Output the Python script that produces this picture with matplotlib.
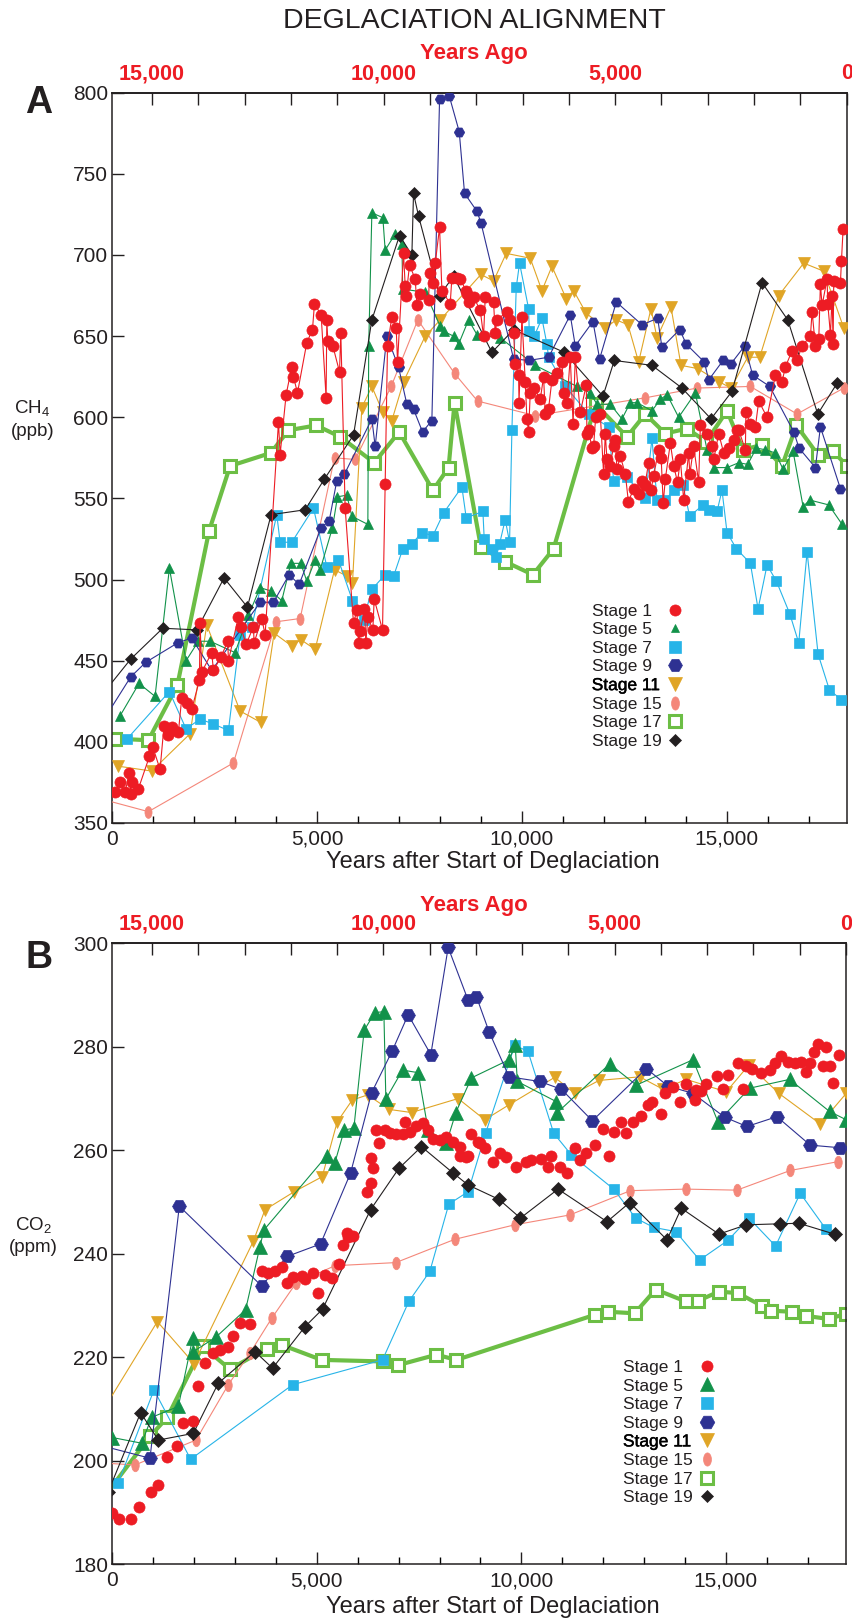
import numpy as np
import matplotlib
matplotlib.use('Agg')
import matplotlib.pyplot as plt
import matplotlib.patheffects as pe
from matplotlib.lines import Line2D
from matplotlib.path import Path
from matplotlib.transforms import Affine2D
from matplotlib.ticker import FuncFormatter

plt.rcParams['font.family'] = ['Liberation Sans', 'DejaVu Sans']
plt.rcParams['mathtext.default'] = 'regular'

# x axis: years after start of deglaciation; top axis: years ago
XMAX = 17930
K = 0.8845

stage_names = ['Stage 1', 'Stage 5', 'Stage 7', 'Stage 9',
               'Stage 11', 'Stage 15', 'Stage 17', 'Stage 19']

# ---------------- CH4 (ppb) ----------------
ch4_s1 = np.array([
    [66, 369], [189, 375], [311, 369], [417, 381], [449, 368], [474, 375], [636, 371],
    [905, 391], [987, 397], [1166, 383], [1263, 410], [1369, 404], [1451, 409],
    [1614, 406], [1695, 427], [1834, 424], [1939, 420], [2127, 438], [2143, 473],
    [2184, 443], [2428, 455], [2469, 444], [2648, 452], [2819, 462], [2835, 450],
    [3079, 477], [3136, 471], [3267, 460], [3446, 471], [3462, 461], [3649, 476],
    [3731, 466], [4057, 597], [4097, 577], [4244, 614], [4382, 631], [4423, 625],
    [4521, 615], [4749, 646], [4887, 654], [4936, 670], [5099, 663], [5220, 612],
    [5237, 660], [5262, 647], [5384, 644], [5547, 628], [5579, 652], [5685, 544],
    [5889, 473], [5970, 481], [6011, 461], [6052, 468], [6157, 482], [6190, 461],
    [6239, 477], [6361, 469], [6394, 488], [6597, 469], [6662, 559], [6719, 644],
    [6825, 662], [6931, 655], [6964, 634], [7110, 701], [7151, 681], [7175, 675],
    [7257, 694], [7396, 685], [7436, 669], [7501, 676], [7721, 672], [7745, 689],
    [7827, 683], [7884, 695], [7990, 717], [8047, 678], [8250, 670], [8291, 686],
    [8413, 686], [8494, 685], [8641, 678], [8657, 676], [8698, 671], [8820, 674],
    [8983, 666], [9064, 650], [9105, 674], [9308, 671], [9349, 652], [9390, 660],
    [9634, 665], [9715, 660], [9797, 652], [9838, 633], [9919, 626], [9930, 609],
    [10000, 662], [10082, 622], [10123, 599], [10163, 591], [10204, 615], [10300, 618],
    [10448, 611], [10530, 625], [10570, 602], [10650, 605], [10733, 623], [10855, 627],
    [10978, 634], [11018, 615], [11100, 609], [11181, 637], [11250, 596], [11303, 637],
    [11426, 603], [11572, 620], [11588, 590], [11629, 592], [11711, 581], [11751, 582],
    [11800, 600], [11914, 602], [11995, 565], [12036, 590], [12077, 574], [12150, 570],
    [12240, 582], [12280, 586], [12321, 568], [12403, 576], [12525, 565], [12600, 548],
    [12728, 556], [12850, 553], [12932, 561], [13000, 558], [13095, 572], [13150, 555],
    [13217, 564], [13339, 580], [13400, 575], [13450, 547], [13502, 562], [13624, 584],
    [13706, 570], [13800, 560], [13869, 574], [13950, 549], [14072, 578], [14100, 565],
    [14194, 582], [14316, 560], [14357, 595], [14520, 590], [14642, 582], [14683, 574],
    [14805, 590], [14927, 578], [15049, 581], [15171, 586], [15253, 592], [15294, 592],
    [15456, 580], [15470, 603], [15578, 596], [15700, 594], [15782, 610], [15986, 600],
    [16189, 626], [16352, 622], [16433, 631], [16596, 641], [16718, 635], [16840, 644],
    [17044, 650], [17085, 665], [17166, 644], [17248, 648], [17288, 682], [17329, 669],
    [17451, 685], [17468, 670], [17533, 651], [17574, 675], [17598, 645], [17614, 684],
    [17777, 683], [17801, 696], [17842, 716]])

ch4_s5 = np.array([
    [189, 416], [653, 436], [1044, 428], [1394, 507], [1801, 450], [2102, 462],
    [2387, 462], [2998, 455], [3324, 478], [3609, 495], [3869, 493], [4138, 487],
    [4358, 510], [4602, 510], [4749, 499], [4952, 512], [5074, 506], [5376, 532],
    [5498, 551], [5726, 552], [5848, 539], [6239, 534], [6260, 644], [6337, 726],
    [6605, 723], [6662, 703], [6907, 713], [7070, 707], [7090, 679], [7640, 677],
    [8006, 656], [8087, 653], [8332, 650], [8454, 645], [8698, 660], [8901, 651],
    [9471, 649], [10326, 632], [11344, 619], [11670, 615], [11833, 608], [12158, 608],
    [12443, 599], [12647, 609], [12810, 609], [13176, 604], [13380, 611], [13543, 614],
    [13827, 600], [14235, 615], [14520, 580], [14683, 569], [15008, 569], [15294, 572],
    [15513, 571], [15725, 581], [15945, 580], [16189, 578], [16376, 568], [16621, 579],
    [16865, 545], [17028, 549], [17492, 546], [17818, 534]])

ch4_s7 = np.array([
    [368, 402], [1394, 431], [1801, 408], [2143, 414], [2469, 411], [2835, 407],
    [3120, 466], [3405, 471], [4016, 540], [4097, 523], [4382, 523], [4912, 544],
    [5237, 508], [5522, 512], [5864, 487], [6133, 475], [6337, 494], [6662, 503],
    [6866, 502], [7094, 519], [7314, 522], [7558, 529], [7827, 527], [8087, 541],
    [8535, 557], [8641, 538], [9048, 542], [9080, 525], [9268, 519], [9373, 514],
    [9455, 522], [9593, 537], [9699, 523], [9756, 592], [9862, 680], [9943, 695],
    [10163, 667], [10180, 653], [10302, 650], [10489, 661], [10611, 645], [10652, 637],
    [11059, 619], [11629, 602], [12117, 594], [12240, 561], [12566, 563], [13013, 550],
    [13176, 587], [13298, 549], [13502, 549], [13706, 555], [13934, 558], [14096, 539],
    [14422, 546], [14561, 543], [14764, 542], [14886, 555], [15008, 529], [15236, 519],
    [15578, 510], [15766, 482], [15986, 509], [16214, 499], [16539, 479], [16759, 461],
    [16963, 517], [17232, 454], [17508, 432], [17801, 426]])

ch4_s9 = np.array([
    [-250, 412], [449, 440], [816, 449], [1597, 461], [1939, 464], [2428, 444],
    [3609, 486], [3934, 486], [4317, 503], [4561, 497], [5099, 532], [5294, 536],
    [5482, 561], [5669, 565], [6337, 599], [6418, 582], [6703, 650], [6988, 631],
    [7192, 608], [7354, 605], [7574, 591], [7802, 598], [7990, 796], [8226, 798],
    [8470, 776], [8600, 738], [8901, 727], [8999, 720], [9797, 636], [10163, 635],
    [10652, 637], [11181, 663], [11303, 644], [11735, 659], [11898, 636], [12305, 671],
    [12932, 657], [13315, 661], [13420, 643], [13852, 654], [14015, 645], [14455, 634],
    [14560, 623], [14911, 635], [15106, 633], [15440, 644], [15635, 626], [16051, 619],
    [16637, 591], [16767, 581], [17166, 569], [17288, 594], [17777, 556]])

ch4_s11 = np.array([
    [148, 385], [962, 382], [1899, 405], [2306, 472], [3120, 419], [3625, 412],
    [3951, 467], [4382, 459], [4602, 463], [4952, 457], [5425, 506], [5742, 502],
    [5864, 498], [6092, 606], [6337, 619], [6605, 603], [6825, 598], [7110, 622],
    [7640, 650], [8006, 660], [9000, 688], [9308, 684], [9618, 701], [10204, 698],
    [10489, 678], [10733, 693], [11084, 673], [11263, 678], [11572, 664], [12036, 655],
    [12305, 660], [12590, 657], [12850, 634], [13152, 667], [13298, 649], [13640, 668],
    [13884, 632], [14292, 630], [14805, 622], [15106, 618], [15513, 637], [15806, 637],
    [16270, 675], [16881, 695], [17370, 690], [17858, 655]])

ch4_s15 = np.array([
    [-300, 365], [881, 357], [2957, 387], [4000, 474], [4586, 476], [5425, 575],
    [5930, 574], [6809, 619], [7460, 660], [8356, 627], [8918, 610], [10326, 601],
    [13013, 612], [14276, 618], [15578, 619], [16718, 602], [17858, 618]])

ch4_s17 = np.array([
    [66, 402], [881, 401], [1589, 435], [2363, 530], [2876, 570], [3869, 578],
    [4301, 592], [4977, 595], [5563, 588], [6393, 572], [7004, 591], [7827, 555],
    [8210, 569], [8356, 609], [9000, 520], [9593, 511], [10269, 503], [10774, 519],
    [11800, 608], [12566, 588], [13013, 602], [13500, 590], [14031, 593], [14500, 585],
    [15008, 604], [15400, 580], [15863, 583], [16352, 570], [16702, 595], [17224, 577],
    [17598, 579], [17940, 570]])

ch4_s19 = np.array([
    [-250, 429], [449, 451], [1231, 470], [2062, 469], [2729, 501], [3299, 483],
    [3877, 540], [4708, 543], [5180, 562], [5889, 589], [6337, 660], [7012, 712],
    [7314, 700], [7354, 738], [7477, 724], [7990, 675], [8332, 687], [9268, 640],
    [9797, 654], [11035, 640], [11979, 613], [12256, 635], [13176, 632], [13909, 618],
    [14618, 599], [15130, 616], [15863, 683], [16491, 660], [17223, 602], [17696, 621]])

# ---------------- CO2 (ppm) ----------------
co2_s1 = np.array([
    [0, 189.9], [164, 188.7], [449, 188.7], [661, 191.1], [938, 193.9], [1125, 195.3],
    [1329, 200.7], [1589, 202.9], [1736, 207.4], [1964, 207.6], [2102, 214.5],
    [2265, 218.9], [2469, 220.9], [2631, 221.5], [2835, 221.9], [2957, 224.1],
    [3120, 226.6], [3364, 226.4], [3649, 236.7], [3812, 236.2], [3975, 236.6],
    [4138, 237.4], [4260, 234.4], [4423, 235.6], [4627, 235.7], [4708, 235.1],
    [4912, 236.2], [5034, 232.5], [5197, 235.9], [5359, 235.3], [5547, 238.0],
    [5644, 241.7], [5726, 244.0], [5767, 243.3], [5889, 243.4], [6214, 252.0],
    [6312, 253.6], [6361, 256.5], [6330, 258.6], [6442, 263.9], [6524, 261.4],
    [6662, 263.9], [6784, 263.3], [6931, 263.2], [7094, 263.2], [7151, 265.4],
    [7273, 263.6], [7436, 264.6], [7599, 265.2], [7721, 263.9], [7843, 262.1],
    [8006, 262.0], [8169, 262.5], [8332, 261.7], [8495, 260.7], [8510, 258.9],
    [8657, 258.8], [8698, 258.9], [8780, 263.2], [8942, 261.7], [8983, 261.4],
    [9105, 260.4], [9308, 257.8], [9471, 259.4], [9634, 258.8], [9878, 256.7],
    [10123, 257.8], [10245, 258.1], [10489, 258.3], [10652, 256.7], [10733, 258.9],
    [10937, 256.7], [11116, 255.6], [11303, 260.4], [11425, 258.1], [11588, 259.5],
    [11792, 261.0], [11995, 264.1], [12142, 258.9], [12256, 263.6], [12443, 265.5],
    [12566, 263.3], [12728, 265.5], [12932, 266.6], [13095, 268.8], [13201, 269.4],
    [13421, 267.0], [13502, 271.0], [13706, 272.3], [13869, 269.4], [14031, 272.9],
    [14235, 269.7], [14276, 271.7], [14398, 271.5], [14520, 272.9], [14780, 274.4],
    [14927, 271.8], [15049, 274.6], [15294, 276.9], [15416, 271.8], [15481, 276.2],
    [15643, 275.7], [15863, 274.9], [16067, 275.5], [16189, 276.8], [16352, 278.2],
    [16515, 277.1], [16678, 276.8], [16841, 277.1], [16947, 275.2], [17060, 276.9],
    [17142, 278.9], [17248, 280.5], [17370, 276.2], [17451, 280.0], [17549, 276.2],
    [17614, 273.0], [17761, 278.4]])

co2_s5 = np.array([
    [0, 204.5], [718, 203.4], [962, 208.4], [1614, 210.5], [1964, 223.7], [1980, 221.1],
    [2534, 223.9], [3259, 229.2], [3609, 241.4], [3706, 244.6], [5237, 258.9],
    [5441, 257.6], [5669, 263.9], [5905, 264.3], [6157, 283.2], [6418, 286.6],
    [6638, 286.8], [6687, 269.9], [7094, 275.5], [7477, 275.0], [7721, 263.9],
    [8169, 261.4], [8397, 267.3], [8780, 274.0], [9700, 277.5], [9850, 280.3],
    [9900, 273.3], [10855, 269.4], [10880, 267.3], [12158, 276.7], [12810, 272.6],
    [14194, 277.5], [14805, 265.5], [15578, 272.0], [16555, 273.7], [17533, 267.5],
    [17940, 265.9]])

co2_s7 = np.array([
    [148, 195.8], [1019, 213.7], [1915, 200.3], [4407, 214.7], [6605, 219.5],
    [7249, 230.8], [7762, 236.6], [8226, 249.6], [8698, 252.0], [9129, 263.4],
    [9838, 280.3], [10163, 279.1], [10790, 263.3], [11222, 259.1], [12256, 252.5],
    [12793, 246.9], [13233, 245.1], [13771, 244.3], [14357, 238.8], [15049, 242.6],
    [15562, 246.9], [16214, 241.5], [16816, 251.7], [17451, 244.7]])

co2_s9 = np.array([
    [-300, 203.0], [921, 200.5], [1638, 249.2], [3649, 233.8], [4276, 239.5],
    [5090, 241.9], [5824, 255.6], [6337, 271.1], [6842, 279.2], [7232, 286.2],
    [7786, 278.5], [8210, 299.2], [8698, 289.0], [8900, 289.7], [9211, 282.9],
    [9699, 274.2], [10448, 273.3], [10978, 271.8], [11735, 265.7], [13054, 275.8],
    [13583, 272.4], [14194, 271.0], [14968, 266.4], [15513, 264.6], [16246, 266.5],
    [17060, 261.0], [17777, 260.5]])

co2_s11 = np.array([
    [-300, 208.8], [1101, 226.9], [1996, 218.8], [3446, 242.4], [3731, 248.5],
    [4447, 252.0], [5131, 254.9], [5498, 265.5], [5864, 269.7], [6239, 270.7],
    [6768, 267.9], [7314, 267.3], [8454, 270.0], [9105, 265.9], [9699, 268.8],
    [10815, 274.1], [11303, 271.0], [11898, 273.5], [12891, 274.2], [13461, 271.8],
    [14031, 273.7], [15008, 271.3], [15562, 276.5], [16295, 271.0], [17305, 265.1],
    [17940, 271.0]])

co2_s15 = np.array([
    [-300, 199.6], [555, 199.2], [2045, 204.0], [2835, 214.7], [3364, 220.8],
    [3893, 227.5], [4488, 234.3], [5441, 237.7], [6931, 238.3], [8372, 242.8],
    [9838, 245.6], [11181, 247.5], [12663, 252.2], [14015, 252.5], [15269, 252.3],
    [16572, 256.1], [17736, 257.8]])

co2_s17 = np.array([
    [-300, 192.0], [921, 204.7], [1345, 208.4], [2208, 222.1], [2876, 217.7],
    [3772, 221.7], [4138, 222.4], [5115, 219.5], [6605, 219.2], [6988, 218.5],
    [7924, 220.5], [8413, 219.5], [11792, 228.2], [12117, 228.8], [12769, 228.5],
    [13282, 233.1], [14015, 230.8], [14316, 230.9], [14829, 232.7], [15294, 232.4],
    [15888, 229.9], [16108, 229.0], [16621, 228.8], [16963, 228.0], [17516, 227.4],
    [17924, 228.4]])

co2_s19 = np.array([
    [-100, 194.0], [693, 209.3], [1125, 204.0], [1980, 205.3], [2591, 215.0],
    [3487, 221.1], [3918, 217.9], [4708, 225.9], [5139, 229.3], [6312, 248.5],
    [7004, 256.5], [7558, 260.7], [8332, 255.6], [8698, 253.3], [9455, 250.5],
    [9976, 246.9], [10896, 252.5], [12093, 246.2], [12647, 249.9], [13559, 242.7],
    [13909, 248.8], [14829, 243.8], [15497, 245.6], [16328, 245.8], [16784, 245.9],
    [17655, 243.8]])

# ---------------- styles ----------------
RED = '#ED1C24'
INK = '#231F20'
ellipse = Path.unit_circle().transformed(Affine2D().scale(0.6, 1.0))

colors = ['#ED1C24', '#12924A', '#27B4E8', '#2E3192', '#E0A526', '#F4877A', '#6CBE45', '#231F20']
markers = ['o', '^', 's', 'H', 'v', ellipse, 's', 'D']
zorders = [9, 6, 5, 7, 4, 3, 2, 8]
sizes_a = [8, 6.5, 7, 7.5, 8, 8.5, 8, 6]
sizes_b = [8, 10, 7.5, 10, 9, 9, 8.5, 7]
leg_sizes_a = [8, 6, 8.5, 10, 10, 9.5, 9, 6.5]
leg_sizes_b = [8, 10.5, 8.5, 10.5, 10.5, 9.5, 9, 6.5]


def style(i, ms):
    kw = dict(marker=markers[i], color=colors[i], mec=colors[i], mfc=colors[i],
              ms=ms, lw=0.8, mew=0.5)
    if i == 6:
        kw.update(mfc='white', mew=2.2, lw=3)
    return kw


def year_ago(x):
    return (XMAX - np.asarray(x, dtype=float)) * K


def year_after(y):
    return XMAX - np.asarray(y, dtype=float) / K


def setup(ax, ylim, ystep):
    ax.set_xlim(0, XMAX)
    ax.set_ylim(*ylim)
    ax.set_yticks(np.arange(ylim[0], ylim[1] + 1, ystep))
    ax.set_xticks([0, 5000, 10000, 15000])
    ax.set_xticks(np.arange(0, 18000, 1000), minor=True)
    ax.xaxis.set_major_formatter(FuncFormatter(lambda v, p: f'{int(v):,}'))
    ax.tick_params(axis='both', which='major', direction='in', length=8.6, width=1,
                   labelsize=15, colors=INK)
    ax.tick_params(axis='x', which='major', pad=5)
    ax.tick_params(axis='y', which='major', pad=3)
    ax.tick_params(axis='x', which='minor', direction='in', length=5, width=1)
    ax.tick_params(axis='y', which='minor', left=False)
    for s in ax.spines.values():
        s.set_color(INK)
        s.set_linewidth(1.1)
    sec = ax.secondary_xaxis('top', functions=(year_ago, year_after))
    top = np.arange(0, 16000, 1000)
    labs = [f'{t:,}' if t % 5000 == 0 else '' for t in top]
    sec.set_xticks(top, labs, color=RED, fontweight='bold', fontsize=15.5)
    sec.tick_params(direction='in', length=8.6, width=1, pad=6, color=INK)
    sec.spines['top'].set_linewidth(1.1)


def legend(ax, ms, tx, mx, ty):
    texts = [Line2D([], [], linestyle='none') for _ in stage_names]
    leg1 = ax.legend(texts, stage_names, loc='upper left', bbox_to_anchor=(tx, ty),
                     frameon=False, handlelength=0, handletextpad=0, borderpad=0,
                     borderaxespad=0, labelspacing=0.2, fontsize=12.5)
    for t in leg1.get_texts():
        t.set_color(INK)
    # "Stage 11" is printed slightly heavier in the original
    leg1.get_texts()[4].set_color('black')
    leg1.get_texts()[4].set_path_effects([pe.withStroke(linewidth=0.3, foreground='black')])
    ax.add_artist(leg1)
    handles = []
    for i in range(8):
        kw = style(i, ms[i])
        kw['lw'] = 0
        handles.append(Line2D([], [], linestyle='none', **kw))
    ax.legend(handles, [''] * 8, loc='upper left', bbox_to_anchor=(mx, ty),
              frameon=False, handlelength=1.0, handletextpad=0, borderpad=0,
              borderaxespad=0, labelspacing=0.2, fontsize=12.5)


W, H = 853, 1620
fig = plt.figure(figsize=(W / 100, H / 100), dpi=100)
axA = fig.add_axes([112.3 / W, 1 - 823 / H, 734.4 / W, 730.3 / H])
axB = fig.add_axes([112.3 / W, 1 - 1564.3 / H, 733.5 / W, 621 / H])

series_a = [ch4_s1, ch4_s5, ch4_s7, ch4_s9, ch4_s11, ch4_s15, ch4_s17, ch4_s19]
series_b = [co2_s1, co2_s5, co2_s7, co2_s9, co2_s11, co2_s15, co2_s17, co2_s19]

for i, d in enumerate(series_a):
    d = d[np.argsort(d[:, 0], kind='stable')]
    axA.plot(d[:, 0], d[:, 1], zorder=zorders[i], **style(i, sizes_a[i]))

for i, d in enumerate(series_b):
    d = d[np.argsort(d[:, 0], kind='stable')]
    kw = style(i, sizes_b[i])
    if i == 0:
        kw['lw'] = 0
    axB.plot(d[:, 0], d[:, 1], zorder=zorders[i], **kw)

setup(axA, (350, 800), 50)
setup(axB, (180, 300), 20)

legend(axA, leg_sizes_a, 0.6528, 0.7544, 0.3006)
legend(axB, leg_sizes_b, 0.6962, 0.7985, 0.3294)

# text around the panels
fig.text(474.5 / W, 1 - 21 / H, 'DEGLACIATION ALIGNMENT', ha='center', va='center',
         fontsize=20.5, color=INK)
for yc in (54, 906):
    fig.text(474 / W, 1 - yc / H, 'Years Ago', ha='center', va='center',
             fontsize=16, fontweight='bold', color=RED)
fig.text(39 / W, 1 - 103 / H, 'A', ha='center', va='center', fontsize=27,
         fontweight='bold', color=INK)
fig.text(39 / W, 1 - 958 / H, 'B', ha='center', va='center', fontsize=27,
         fontweight='bold', color=INK)
fig.text(32 / W, 1 - 408 / H, 'CH$_4$', ha='center', va='center', fontsize=13.5, color=INK)
fig.text(33 / W, 1 - 432 / H, '(ppb)', ha='center', va='center', fontsize=13.5, color=INK)
fig.text(33 / W, 1 - 1225 / H, 'CO$_2$', ha='center', va='center', fontsize=13.5, color=INK)
fig.text(33 / W, 1 - 1247 / H, '(ppm)', ha='center', va='center', fontsize=13.5, color=INK)
fig.text(493 / W, 1 - 862 / H, 'Years after Start of Deglaciation', ha='center', va='center',
         fontsize=17, color=INK)
fig.text(493 / W, 1 - 1607 / H, 'Years after Start of Deglaciation', ha='center', va='center',
         fontsize=17, color=INK)

fig.savefig('out.png', dpi=100)
